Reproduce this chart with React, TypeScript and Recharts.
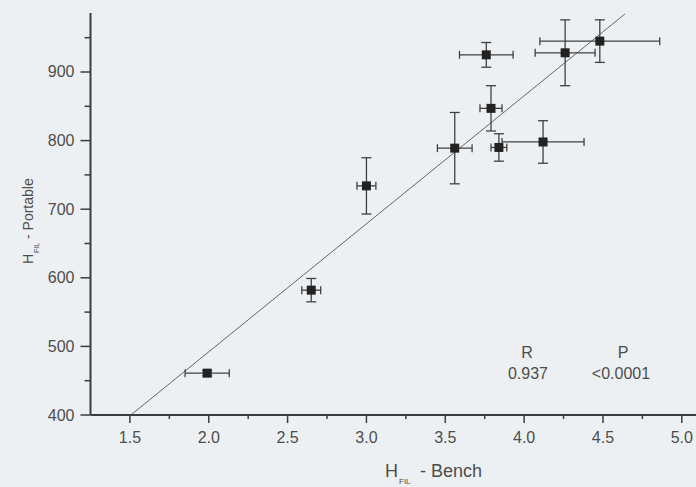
import React from 'react';
import {
  ScatterChart,
  Scatter,
  XAxis,
  YAxis,
  ErrorBar,
  ReferenceLine,
  Customized,
} from 'recharts';

// ---- data ----
const benchValues = [1.99, 2.65, 3.0, 3.56, 3.79, 3.76, 3.84, 4.12, 4.26, 4.48];
const benchErrors = [0.14, 0.06, 0.06, 0.11, 0.07, 0.17, 0.05, 0.26, 0.19, 0.38];
const portableValues = [461, 582, 734, 789, 847, 925, 790, 798, 928, 945];
const portableErrors = [4, 17, 41, 52, 33, 18, 20, 31, 48, 31];

const xMajorTicks = [1.5, 2.0, 2.5, 3.0, 3.5, 4.0, 4.5, 5.0];
const xAllTicks = [1.5, 1.75, 2.0, 2.25, 2.5, 2.75, 3.0, 3.25, 3.5, 3.75, 4.0, 4.25, 4.5, 4.75, 5.0];
const yMajorTicks = [400, 500, 600, 700, 800, 900];
const yAllTicks = [400, 450, 500, 550, 600, 650, 700, 750, 800, 850, 900, 950];

const fitX = [1.51, 4.64];
const fitY = [400.7, 984.7];

const statLabels = ['R', 'P'];
const statValues = ['0.937', '<0.0001'];

const points = benchValues.map((x, i) => ({
  x,
  y: portableValues[i],
  ex: benchErrors[i],
  ey: portableErrors[i],
}));

const TEXT = '#4d4d4d';
const AXIS = '#3c3c3c';
const FONT = '"Liberation Sans", Arial, Helvetica, sans-serif';

const YTick = (props: any) => {
  const { x, y, payload } = props;
  const major = yMajorTicks.includes(payload.value);
  return (
    <g>
      <line x1={x - (major ? 10 : 6)} x2={x} y1={y} y2={y} stroke={AXIS} strokeWidth={1.5} />
      {major && (
        <text x={x - 16} y={y + 5.5} textAnchor="end" fill={TEXT} fontSize={16} fontFamily={FONT}>
          {payload.value}
        </text>
      )}
    </g>
  );
};

const XTick = (props: any) => {
  const { x, y, payload } = props;
  const major = xMajorTicks.includes(payload.value);
  return (
    <g>
      <line x1={x} x2={x} y1={y} y2={y + (major ? 8 : 4)} stroke={AXIS} strokeWidth={1.5} />
      {major && (
        <text x={x} y={y + 28} textAnchor="middle" fill={TEXT} fontSize={16} fontFamily={FONT}>
          {payload.value.toFixed(1)}
        </text>
      )}
    </g>
  );
};

const Square = (props: any) => {
  const { cx, cy } = props;
  return <rect x={cx - 4.5} y={cy - 4.5} width={9} height={9} fill="#222" />;
};

const Titles = () => (
  <g fontFamily={FONT} fill={TEXT}>
    <g transform="translate(33,264) rotate(-90)">
      <text x={0} y={0} fontSize={14}>H</text>
      <text x={11} y={5.5} fontSize={7}>FIL</text>
      <text x={25} y={0} fontSize={14}>- Portable</text>
    </g>
    <g>
      <text x={385} y={477} fontSize={18}>H</text>
      <text x={399} y={484} fontSize={8}>FIL</text>
      <text x={420} y={477} fontSize={18}>- Bench</text>
    </g>
    <text x={527} y={358} fontSize={16} textAnchor="middle">{statLabels[0]}</text>
    <text x={623} y={358} fontSize={16} textAnchor="middle">{statLabels[1]}</text>
    <text x={528} y={378.5} fontSize={16} textAnchor="middle">{statValues[0]}</text>
    <text x={621} y={378.5} fontSize={16} textAnchor="middle">{statValues[1]}</text>
  </g>
);

export default function App() {
  return (
    <div style={{ position: 'fixed', left: 0, top: 0, width: 696, height: 487, background: '#edf0f2' }}>
      <ScatterChart width={696} height={487} margin={{ top: 13, right: 0, bottom: 0, left: 0 }}>
        <XAxis
          type="number"
          dataKey="x"
          domain={[1.25, 5.09]}
          ticks={xAllTicks}
          interval={0}
          allowDataOverflow
          height={72}
          tickSize={0}
          tickMargin={0}
          tickLine={false}
          tick={(p: any) => <XTick {...p} />}
          axisLine={{ stroke: AXIS, strokeWidth: 2 }}
        />
        <YAxis
          type="number"
          dataKey="y"
          domain={[400, 986]}
          ticks={yAllTicks}
          interval={0}
          allowDataOverflow
          width={90.5}
          tickSize={0}
          tickMargin={0}
          tickLine={false}
          tick={(p: any) => <YTick {...p} />}
          axisLine={{ stroke: AXIS, strokeWidth: 2 }}
        />
        <ReferenceLine
          segment={[
            { x: fitX[0], y: fitY[0] },
            { x: fitX[1], y: fitY[1] },
          ]}
          stroke="#666"
          strokeWidth={1}
          ifOverflow="visible"
        />
        <Scatter data={points} isAnimationActive={false} shape={(p: any) => <Square {...p} />}>
          <ErrorBar dataKey="ex" direction="x" width={4} stroke="#404040" strokeWidth={1.3} />
          <ErrorBar dataKey="ey" direction="y" width={5} stroke="#404040" strokeWidth={1.3} />
        </Scatter>
        <Customized component={Titles} />
      </ScatterChart>
    </div>
  );
}
